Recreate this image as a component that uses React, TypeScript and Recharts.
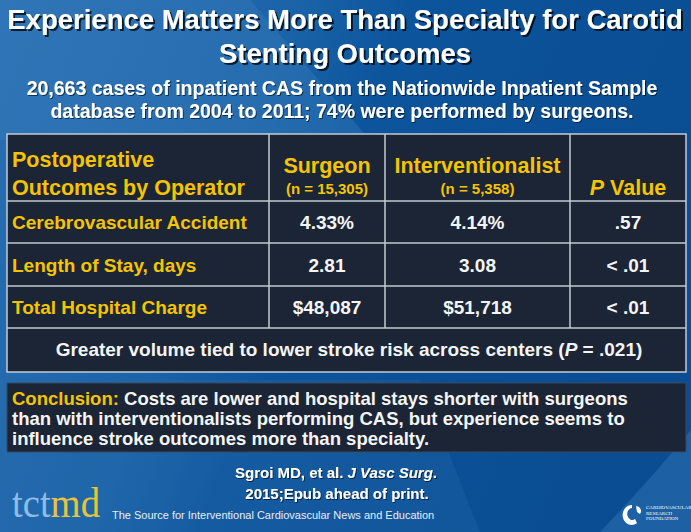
import { Surface, Layer, Rectangle, Text } from "recharts";

const W = 691;
const H = 532;

const titleLines = ["Experience Matters More Than Specialty for Carotid", "Stenting Outcomes"];
const subtitleLines = [
  "20,663 cases of inpatient CAS from the Nationwide Inpatient Sample",
  "database from 2004 to 2011; 74% were performed by surgeons.",
];
const outcomes = ["Cerebrovascular Accident", "Length of Stay, days", "Total Hospital Charge"];
const surgeonValues = ["4.33%", "2.81", "$48,087"];
const interventionalistValues = ["4.14%", "3.08", "$51,718"];
const pValues = [".57", "< .01", "< .01"];
const operatorHeaders = ["Surgeon", "Interventionalist"];
const operatorCounts = ["(n = 15,305)", "(n = 5,358)"];
const conclusionRest = [
  "Costs are lower and hospital stays shorter with surgeons",
  "than with interventionalists performing CAS, but experience seems to",
  "influence stroke outcomes more than specialty.",
];
const crfLines = ["CARDIOVASCULAR", "RESEARCH", "FOUNDATION"];

const GOLD = "#f5c400";
const WHITE = "#f5f5f5";
const FONT = "'Liberation Sans', Arial, sans-serif";

const colX = [7, 269, 385, 570, 686];
const rowY = [134, 201, 243, 286, 328, 372];

const mid = (i: number) => (colX[i] + colX[i + 1]) / 2;

export default function App() {
  return (
    <div style={{ position: "fixed", left: 0, top: 0, width: W, height: H }}>
      <Surface width={W} height={H}>
        <defs>
          <linearGradient id="bg" x1="0" y1="0" x2="1" y2="0.3">
            <stop offset="0" stopColor="#2a6fb2" />
            <stop offset="0.4" stopColor="#1b63a8" />
            <stop offset="0.55" stopColor="#0c549c" />
            <stop offset="1" stopColor="#0a4d92" />
          </linearGradient>
          <filter id="sh" x="-5%" y="-20%" width="110%" height="150%">
            <feDropShadow dx="2" dy="2" stdDeviation="0.6" floodColor="#000" floodOpacity="0.75" />
          </filter>
          <filter id="sh2" x="-5%" y="-20%" width="110%" height="150%">
            <feDropShadow dx="1" dy="1" stdDeviation="0.5" floodColor="#000" floodOpacity="0.6" />
          </filter>
        </defs>
        <rect x={0} y={0} width={W} height={H} fill="url(#bg)" />
        <polygon points="0,0 250,0 370,140 0,140" fill="#3b80c0" opacity={0.35} />
        <path d="M600,532 Q650,480 691,430 L691,532 Z" fill="#3a7fc0" opacity={0.4} />
        <polygon points="0,380 420,380 480,532 0,532" fill="#2a70b0" opacity={0.25} />

        {/* title */}
        <Layer>
          {titleLines.map((t, i) => (
            <text key={t} x={345} y={29 + i * 34} textAnchor="middle" fill="#ffffff"
              fontFamily={FONT} fontWeight="bold" fontSize={27.5} filter="url(#sh)">{t}</text>
          ))}
          {subtitleLines.map((t, i) => (
            <text key={t} x={342} y={95 + i * 23} textAnchor="middle" fill="#ffffff"
              fontFamily={FONT} fontWeight="bold" fontSize={19.5} filter="url(#sh2)">{t}</text>
          ))}
        </Layer>

        {/* table */}
        <Layer>
          <Rectangle x={colX[0]} y={rowY[0]} width={colX[4] - colX[0]} height={rowY[5] - rowY[0]}
            fill="#1b2536" stroke="#c3cad2" strokeWidth={1.5} />
          {rowY.slice(1, 5).map((y) => (
            <line key={y} x1={colX[0]} x2={colX[4]} y1={y} y2={y} stroke="#c3cad2" strokeWidth={1.5} />
          ))}
          {colX.slice(1, 4).map((x) => (
            <line key={x} x1={x} x2={x} y1={rowY[0]} y2={rowY[4]} stroke="#c3cad2" strokeWidth={1.5} />
          ))}

          <text x={12} y={167} fill={GOLD} fontFamily={FONT} fontWeight="bold" fontSize={21.5}>Postoperative</text>
          <text x={12} y={195} fill={GOLD} fontFamily={FONT} fontWeight="bold" fontSize={21.5}>Outcomes by Operator</text>
          {operatorHeaders.map((h, i) => (
            <Layer key={h}>
              <Text x={mid(i + 1)} y={173} textAnchor="middle" fill={GOLD} fontFamily={FONT}
                fontWeight="bold" fontSize={21.5}>{h}</Text>
              <Text x={mid(i + 1)} y={194} textAnchor="middle" fill={GOLD} fontFamily={FONT}
                fontWeight="bold" fontSize={15}>{operatorCounts[i]}</Text>
            </Layer>
          ))}
          <text x={mid(3)} y={195} textAnchor="middle" fill={GOLD} fontFamily={FONT} fontWeight="bold" fontSize={21.5}>
            <tspan fontStyle="italic">P</tspan> Value
          </text>

          {outcomes.map((o, i) => {
            const y = (rowY[i + 1] + rowY[i + 2]) / 2 + 7;
            return (
              <Layer key={o}>
                <Text x={12} y={y} fill={GOLD} fontFamily={FONT} fontWeight="bold" fontSize={19}>{o}</Text>
                <Text x={mid(1)} y={y} textAnchor="middle" fill={WHITE} fontFamily={FONT} fontWeight="bold" fontSize={19}>{surgeonValues[i]}</Text>
                <Text x={mid(2)} y={y} textAnchor="middle" fill={WHITE} fontFamily={FONT} fontWeight="bold" fontSize={19}>{interventionalistValues[i]}</Text>
                <Text x={mid(3)} y={y} textAnchor="middle" fill={WHITE} fontFamily={FONT} fontWeight="bold" fontSize={19}>{pValues[i]}</Text>
              </Layer>
            );
          })}

          <text x={349} y={356} textAnchor="middle" fill={WHITE} fontFamily={FONT} fontWeight="bold" fontSize={19}>
            Greater volume tied to lower stroke risk across centers (<tspan fontStyle="italic">P</tspan> = .021)
          </text>
        </Layer>

        {/* conclusion */}
        <Layer>
          <Rectangle x={7} y={383} width={679} height={69} fill="#1b2536" stroke="#3a4a60" strokeWidth={1} />
          <text x={12} y={405} fontFamily={FONT} fontWeight="bold" fontSize={18.5} fill={WHITE}>
            <tspan fill={GOLD}>Conclusion:</tspan> {conclusionRest[0]}
          </text>
          {conclusionRest.slice(1).map((t, i) => (
            <text key={t} x={12} y={425 + i * 20} fontFamily={FONT} fontWeight="bold" fontSize={18.5} fill={WHITE}>{t}</text>
          ))}
        </Layer>

        {/* citation */}
        <text x={336} y={478} textAnchor="middle" fill="#ffffff" fontFamily={FONT} fontWeight="bold" fontSize={15} filter="url(#sh2)">
          Sgroi MD, et al. <tspan fontStyle="italic">J Vasc Surg</tspan>.
        </text>
        <text x={337} y={499} textAnchor="middle" fill="#ffffff" fontFamily={FONT} fontWeight="bold" fontSize={15} filter="url(#sh2)">
          2015;Epub ahead of print.
        </text>

        {/* footer logos */}
        <text x={12} y={517} fontFamily="'Liberation Serif', serif" fontSize={42} textLength={88} lengthAdjust="spacingAndGlyphs">
          <tspan fill="#8fbde6">tct</tspan><tspan fill="#e8c43a">md</tspan>
        </text>
        <text x={112} y={519} fontFamily={FONT} fontSize={11} fill="#e8eef5">
          The Source for Interventional Cardiovascular News and Education
        </text>
        <path d="M632,505 a9,10 0 1,0 5,18 l-2,-4 a5,6 0 1,1 -3,-11 z" fill="#ffffff" />
        <path d="M636,506 a5,5 0 0,1 4,8 l-3,-2 z" fill="#ffffff" />
        {crfLines.map((t, i) => (
          <text key={t} x={646} y={509 + i * 5.5} fontFamily="'Liberation Serif', serif" fontSize={5} fill="#ffffff">{t}</text>
        ))}
      </Surface>
    </div>
  );
}
